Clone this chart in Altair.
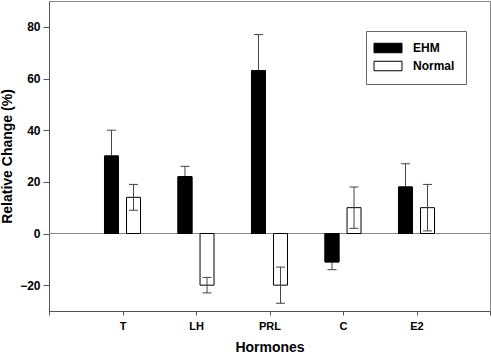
import altair as alt
import pandas as pd

hormones = ["T", "LH", "PRL", "C", "E2"]
groups = ["EHM", "Normal"]
ehm_values = [30, 22, 63, -11, 18]
ehm_errors = [10, 4, 14, 3, 9]
normal_values = [14, -20, -20, 10, 10]
normal_errors = [5, 3, 7, 8, 9]
y_ticks = [-20, 0, 20, 40, 60, 80]

rows = []
for i, h in enumerate(hormones):
    rows.append({"hormone": h, "group": "EHM", "pos": i + 1, "off": -0.15,
                 "value": ehm_values[i], "err": ehm_errors[i]})
    rows.append({"hormone": h, "group": "Normal", "pos": i + 1, "off": 0.15,
                 "value": normal_values[i], "err": normal_errors[i]})
df = pd.DataFrame(rows)

FONT = "Liberation Sans"
xscale = alt.Scale(domain=[0, 6], nice=False, zero=False)
yscale = alt.Scale(domain=[-30, 90], nice=False)

label_arr = "[''," + ",".join(f"'{h}'" for h in hormones) + ",'']"

base = alt.Chart(df).transform_calculate(
    xc="datum.pos + datum.off",
    xl="datum.pos + datum.off - 0.095",
    xr="datum.pos + datum.off + 0.095",
    cl="datum.pos + datum.off - 0.061",
    cr="datum.pos + datum.off + 0.061",
    hi="datum.value + datum.err",
    lo="datum.value - datum.err",
)

xaxis = alt.Axis(values=[0, 1, 2, 3, 4, 5, 6], labelExpr=label_arr + "[datum.value]",
                 title="Hormones", grid=False, tickSize=4, labelPadding=5,
                 labelFontSize=11, titlePadding=9)
yaxis = alt.Axis(values=y_ticks, title="Relative Change (%)", grid=False,
                 tickSize=6, labelPadding=3, labelFontSize=12, titlePadding=5)

bars = base.mark_bar(stroke="black", strokeWidth=1).encode(
    x=alt.X("xl:Q", scale=xscale, axis=xaxis),
    x2="xr:Q",
    y=alt.Y("value:Q", scale=yscale, axis=yaxis),
    y2=alt.datum(0),
    fill=alt.Fill("group:N", scale=alt.Scale(domain=groups, range=["black", "white"]),
                  legend=alt.Legend(title=None)),
)

err_line = base.mark_rule(color="#444", strokeWidth=1).encode(
    x=alt.X("xc:Q", scale=xscale), y=alt.Y("lo:Q", scale=yscale), y2="hi:Q")
cap_hi = base.mark_rule(color="#444", strokeWidth=1).encode(
    x=alt.X("cl:Q", scale=xscale), x2="cr:Q", y=alt.Y("hi:Q", scale=yscale))
cap_lo = base.mark_rule(color="#444", strokeWidth=1).encode(
    x=alt.X("cl:Q", scale=xscale), x2="cr:Q", y=alt.Y("lo:Q", scale=yscale))

ehm_bars = base.transform_filter("datum.group == 'EHM'").mark_bar(
    stroke="black", strokeWidth=1, fill="black").encode(
    x=alt.X("xl:Q", scale=xscale), x2="xr:Q",
    y=alt.Y("value:Q", scale=yscale), y2=alt.datum(0))

zero = alt.Chart(pd.DataFrame({"z": [0]})).mark_rule(color="#888", strokeWidth=1).encode(
    y=alt.Y("z:Q", scale=yscale))

chart = alt.layer(zero, bars, err_line, cap_hi, cap_lo, ehm_bars).properties(
    width=441, height=310,
    padding={"left": 49, "top": 1, "right": 1, "bottom": 44},
    autosize=alt.AutoSizeParams(type="none"),
).configure_view(stroke="#888", strokeWidth=1).configure_axis(
    labelFont=FONT, labelFontWeight="bold", labelColor="black",
    titleFont=FONT, titleFontWeight="bold", titleFontSize=14, titleColor="black",
    domainColor="#555", tickColor="#555",
).configure_legend(
    orient="none", legendX=317, legendY=30,
    strokeColor="#666", padding=11, fillColor="white",
    labelFont=FONT, labelFontWeight="bold", labelFontSize=12, labelColor="black",
    symbolType="M-2.8,-0.95L2.8,-0.95L2.8,0.95L-2.8,0.95Z", symbolSize=100,
    symbolStrokeColor="black", symbolStrokeWidth=1, symbolOffset=5,
    labelOffset=19, rowPadding=4,
)

chart.save("out.html", embed_options={"renderer": "svg", "actions": False})
